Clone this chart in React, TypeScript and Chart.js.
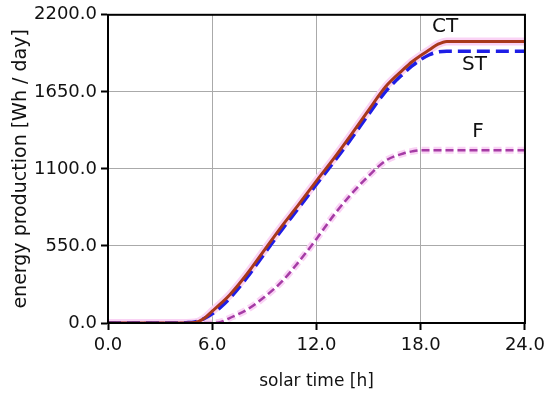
import React, { useEffect, useRef } from "react";
import { Chart, registerables } from "chart.js";

Chart.register(...registerables);

const hours = [0, 4, 4.5, 5, 5.5, 6, 6.5, 7, 8, 9, 10, 11, 12, 13, 14, 15, 16, 17, 17.5, 18, 18.5, 19, 19.5, 20, 21, 22, 23, 24];
const ctValues = [0, 0, 0, 3, 30, 85, 140, 200, 350, 520, 690, 850, 1015, 1175, 1345, 1520, 1690, 1810, 1865, 1910, 1950, 1990, 2010, 2010, 2010, 2010, 2010, 2010];
const stValues = [0, 0, 2, 8, 30, 65, 115, 175, 325, 495, 665, 825, 990, 1150, 1315, 1490, 1655, 1780, 1835, 1880, 1915, 1935, 1939, 1939, 1939, 1939, 1939, 1939];
const fValues = [0, 0, 0, 0, 0, 0, 8, 35, 95, 185, 295, 440, 600, 770, 920, 1050, 1160, 1210, 1225, 1233, 1233, 1233, 1233, 1233, 1233, 1233, 1233, 1233];

const xTickValues = [0, 6, 12, 18, 24];
const yTickValues = [0, 550, 1100, 1650, 2200];

const seriesLabels = ["CT", "ST", "F"];
const labelHours = [19.4, 21.1, 21.3];
const labelValues = [2113, 1840, 1362];

const xTitle = "solar time [h]";
const yTitle = "energy production [Wh / day]";

const toPoints = (vals: number[]) => vals.map((v, i) => ({ x: hours[i], y: v }));

export default function App() {
  const ref = useRef<HTMLCanvasElement | null>(null);

  useEffect(() => {
    if (!ref.current) return;
    const framePlugin = {
      id: "frame",
      afterDatasetsDraw(chart: any) {
        const { ctx, chartArea, scales } = chart;
        ctx.save();
        ctx.strokeStyle = "#000";
        ctx.lineWidth = 2;
        ctx.strokeRect(chartArea.left, chartArea.top, chartArea.right - chartArea.left, chartArea.bottom - chartArea.top);
        ctx.fillStyle = "#111";
        ctx.font = "20px 'DejaVu Sans'";
        ctx.textAlign = "center";
        ctx.textBaseline = "middle";
        seriesLabels.forEach((t, i) => {
          ctx.fillText(t, scales.x.getPixelForValue(labelHours[i]), scales.y.getPixelForValue(labelValues[i]));
        });
        ctx.restore();
      },
    };

    const common = { pointRadius: 0, tension: 0, cubicInterpolationMode: "monotone" as const };

    const chart = new Chart(ref.current, {
      type: "line",
      data: {
        datasets: [
          {
            label: "CT",
            data: toPoints(ctValues),
            borderColor: "#A8381C",
            borderWidth: 3,
            order: 0,
            ...common,
          },
          {
            label: "ST",
            data: toPoints(stValues),
            borderColor: "#1E1EE6",
            borderWidth: 3.5,
            borderDash: [13, 6],
            order: 1,
            ...common,
          },
          {
            label: "F",
            data: toPoints(fValues),
            borderColor: "#A53CA5",
            borderWidth: 2.5,
            borderDash: [8, 4],
            order: 2,
            ...common,
          },
          {
            label: "CT halo",
            data: toPoints(ctValues),
            borderColor: "#FAD3F5",
            borderWidth: 8,
            order: 3,
            ...common,
          },
          {
            label: "F halo",
            data: toPoints(fValues),
            borderColor: "#FAD3F5",
            borderWidth: 7,
            borderDash: [8, 4],
            order: 4,
            ...common,
          },
        ],
      },
      options: {
        responsive: false,
        animation: false,
        layout: { padding: { left: 0, right: 24, top: 11, bottom: 0 } },
        plugins: { legend: { display: false }, tooltip: { enabled: false } },
        scales: {
          x: {
            type: "linear",
            min: 0,
            max: 24,
            afterFit(scale: any) {
              scale.height = 71;
            },
            afterBuildTicks(scale: any) {
              scale.ticks = xTickValues.map((v) => ({ value: v }));
            },
            ticks: {
              color: "#111",
              font: { family: "DejaVu Sans", size: 18 },
              padding: 5,
              maxRotation: 0,
              callback: (v: any) => Number(v).toFixed(1),
            },
            grid: { color: "#AAAAAA", lineWidth: 1, tickColor: "#000", tickLength: 7, tickWidth: 2 },
            border: { color: "#000", width: 2 },
            title: {
              display: true,
              text: xTitle,
              color: "#111",
              font: { family: "DejaVu Sans", size: 17 },
              padding: { top: 0, bottom: 2 },
            },
          },
          y: {
            type: "linear",
            min: 0,
            max: 2200,
            afterFit(scale: any) {
              scale.width = 108;
            },
            afterBuildTicks(scale: any) {
              scale.ticks = yTickValues.map((v) => ({ value: v }));
            },
            ticks: {
              color: "#111",
              font: { family: "DejaVu Sans", size: 18 },
              padding: 4,
              callback: (v: any) => Number(v).toFixed(1),
            },
            grid: { color: "#AAAAAA", lineWidth: 1, tickColor: "#000", tickLength: 7, tickWidth: 2 },
            border: { color: "#000", width: 2 },
            title: {
              display: true,
              text: yTitle,
              color: "#111",
              font: { family: "DejaVu Sans", size: 19 },
              padding: { top: 10, bottom: 0 },
            },
          },
        },
      },
      plugins: [framePlugin],
    });
    return () => chart.destroy();
  }, []);

  return (
    <div style={{ position: "fixed", left: 0, top: 0, width: 550, height: 394, background: "#fff" }}>
      <canvas ref={ref} width={550} height={394} style={{ display: "block" }} />
    </div>
  );
}
